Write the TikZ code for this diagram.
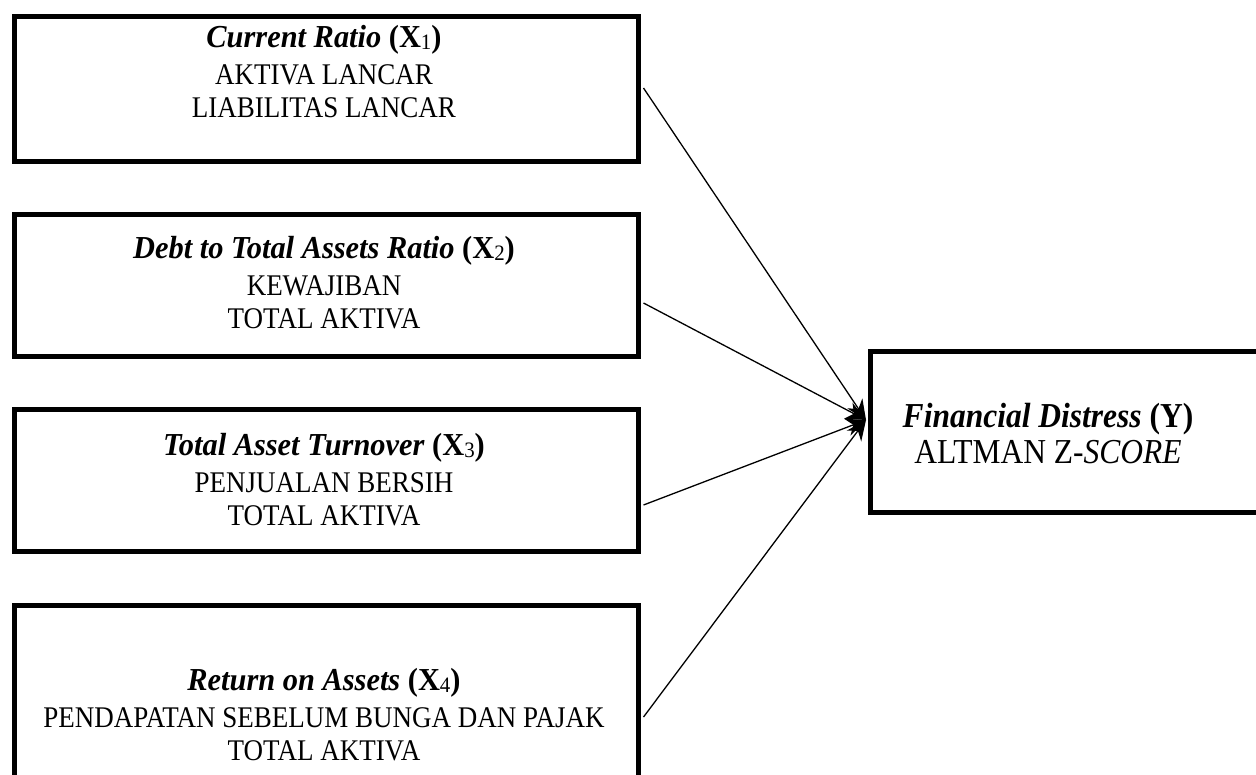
\documentclass[tikz,border=0pt]{standalone}
\usepackage{fontspec}
\setmainfont{Liberation Serif}
\newfontfamily\bodyf{Liberation Serif}[FakeStretch=0.9]
\newfontfamily\titlef{Liberation Serif}[FakeStretch=0.95]
\usetikzlibrary{arrows.meta,calc}
\newcommand{\sbx}[1]{\raisebox{-2.5pt}{\fontsize{22}{22}\selectfont\mdseries #1}}
\newcommand{\ttl}[1]{{\titlef\fontsize{32}{33}\selectfont\bfseries #1}}
\tikzset{
  box/.style={draw, line width=5pt, anchor=north west, inner sep=0pt},
  body/.style={font=\bodyf\fontsize{30}{33}\selectfont, align=center, inner sep=0pt, anchor=base},
  ybody/.style={font=\bodyf\fontsize{35}{36}\selectfont, align=center, inner sep=0pt, anchor=base},
  link/.style={line width=1.3pt, -{Stealth[length=20pt,width=18pt]}}
}
\begin{document}
\begin{tikzpicture}[x=1pt,y=-1pt]
\useasboundingbox (0,0) rectangle (1256,774);
\clip (0,0) rectangle (1256,774);
\node[box, minimum width=624pt, minimum height=145pt] (b1) at (12,14) {};
\node[box, minimum width=624pt, minimum height=142pt] (b2) at (12,212) {};
\node[box, minimum width=624pt, minimum height=142pt] (b3) at (12,407) {};
\node[box, minimum width=624pt, minimum height=200pt] (b4) at (12,603) {};
\node[box, minimum width=420pt, minimum height=161pt] (y) at (868,349) {};

\node[body] (t1) at (324,117) {\ttl{\textit{Current Ratio} (X\sbx{1})}\\[4pt]AKTIVA LANCAR\\LIABILITAS LANCAR};
\node[body] (t2) at (324,328) {\ttl{\textit{Debt to Total Assets Ratio} (X\sbx{2})}\\[4pt]KEWAJIBAN\\TOTAL AKTIVA};
\node[body] (t3) at (324,525) {\ttl{\textit{Total Asset Turnover} (X\sbx{3})}\\[4pt]PENJUALAN BERSIH\\TOTAL AKTIVA};
\node[body] (t4) at (324,760) {\ttl{\textit{Return on Assets} (X\sbx{4})}\\[4pt]PENDAPATAN SEBELUM BUNGA DAN PAJAK\\TOTAL AKTIVA};
\node[ybody] (ty) at (1048,463) {\textbf{\textit{Financial Distress} (Y)}\\ALTMAN Z-\textit{SCORE}};

\coordinate (tip) at ($(y.north west)+(-2,71)$);
\draw[link] ($(b1.north east)+(2.5,74)$) -- (tip);
\draw[link] ($(b2.north east)+(2.5,91)$) -- (tip);
\draw[link] ($(b3.north east)+(2.5,98)$) -- (tip);
\draw[link] ($(b4.north east)+(2.5,114)$) -- (tip);
\end{tikzpicture}
\end{document}
